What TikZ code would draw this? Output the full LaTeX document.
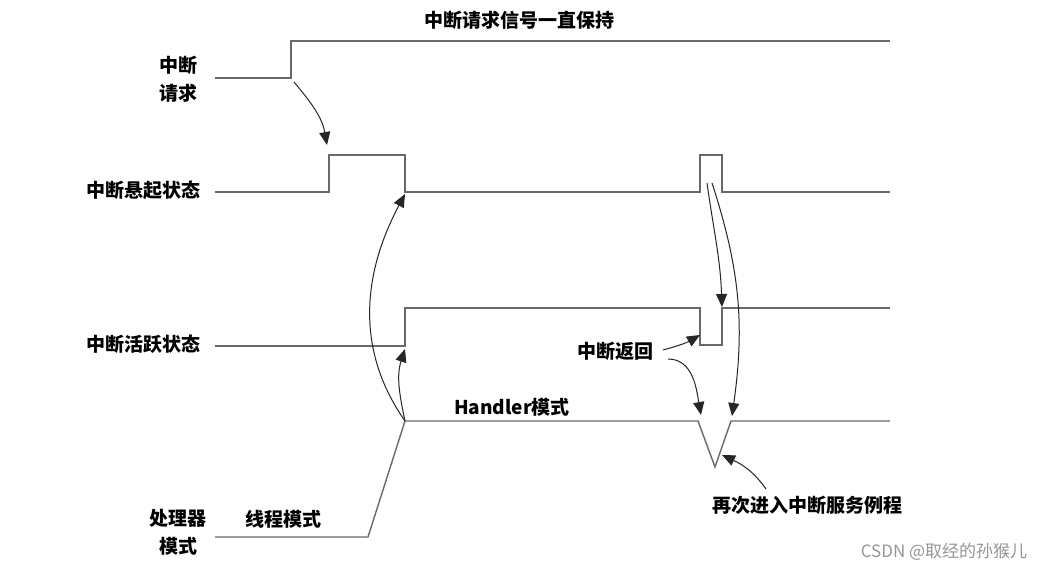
\documentclass[tikz,border=0pt]{standalone}
\usepackage{fontspec}
\setmainfont{Noto Sans CJK SC}
\usetikzlibrary{arrows.meta}
\definecolor{wavegray}{RGB}{105,105,105}
\definecolor{markgray}{RGB}{150,150,150}
\begin{document}
\begin{tikzpicture}[x=1pt, y=1pt,
    wave/.style={draw=wavegray, line width=1.4pt},
    hint/.style={draw=black!85, line width=1pt, -{Triangle[length=13pt,width=11pt]}},
    lbl/.style={font=\fontsize{19}{24}\selectfont\bfseries, align=center, inner sep=0pt}]
    \useasboundingbox[fill=white] (0,0) rectangle (1055,573);

    % signal corners
    \coordinate (requp) at (291,495);
    \coordinate (penup) at (329,381);
    \coordinate (pendn) at (405,381);
    \coordinate (pen2) at (700,381);
    \coordinate (actup) at (405,227);
    \coordinate (actdn) at (700,228);
    \coordinate (actre) at (722,228);
    \coordinate (modeup) at (405,152);
    \coordinate (vleft) at (698,152);
    \coordinate (vbot) at (715,106);
    \coordinate (vright) at (731,152);

    % waveforms
    \draw[wave] (215,495) -- (requp) -- (291,532) -- (890,532);
    \draw[wave] (215,381) -- (penup) -- (329,418) -- (405,418) -- (pendn) -- (pen2)
        -- (700,418) -- (722,418) -- (722,381) -- (890,381);
    \draw[wave] (215,227) -- (actup) -- (405,265) -- (700,265) -- (actdn) -- (actre)
        -- (722,265) -- (890,265);
    \draw[wave] (215,36) -- (368,36) -- (modeup) -- (vleft) -- (vbot) -- (vright) -- (890,152);

    % labels
    \node[lbl] (title) at (519,553) {中断请求信号一直保持};
    \node[lbl] (req) at (178,494) {中断\\[4pt]请求};
    \node[lbl] (pen) at (143,383) {中断悬起状态};
    \node[lbl] (act) at (143,229) {中断活跃状态};
    \node[lbl] (mode) at (178,41) {处理器\\[4pt]模式};
    \node[lbl] (thread) at (283,54) {线程模式};
    \node[lbl] (handler) at (512,166) {Handler模式};
    \node[lbl] (ret) at (615,222) {中断返回};
    \node[lbl] (again) at (807,68) {再次进入中断服务例程};
    \node[font=\fontsize{17}{20}\selectfont, text=markgray, inner sep=0pt] (mark) at (944,21) {CSDN @取经的孙猴儿};

    % arrow ends
    \coordinate (a1s) at (294,491);
    \coordinate (a1e) at (327,428);
    \coordinate (a2e) at (405,379);
    \coordinate (a3e) at (405,224);
    \coordinate (a4s) at (707,390);
    \coordinate (a4e) at (722,266);
    \coordinate (a5s) at (712,390);
    \coordinate (a5e) at (732,157);
    \coordinate (a6e) at (700,238);
    \coordinate (a7s) at (668,214);
    \coordinate (a7e) at (701,158);
    \coordinate (a8s) at (766,84);
    \coordinate (a8e) at (722,118);

    % arrows
    \draw[hint] (a1s) to[out=-50, in=100] (a1e);
    \draw[hint] (modeup) to[out=125, in=-118] (a2e);
    \draw[hint] (modeup) to[out=102, in=-108] (a3e);
    \draw[hint] (a4s) to[out=-82, in=92] (a4e);
    \draw[hint] (a5s) to[out=-72, in=82] (a5e);
    \draw[hint] (663,223) to[out=15, in=-150] (a6e);
    \draw[hint] (a7s) to[out=0, in=100] (a7e);
    \draw[hint] (a8s) to[out=125, in=-25] (a8e);
\end{tikzpicture}
\end{document}
